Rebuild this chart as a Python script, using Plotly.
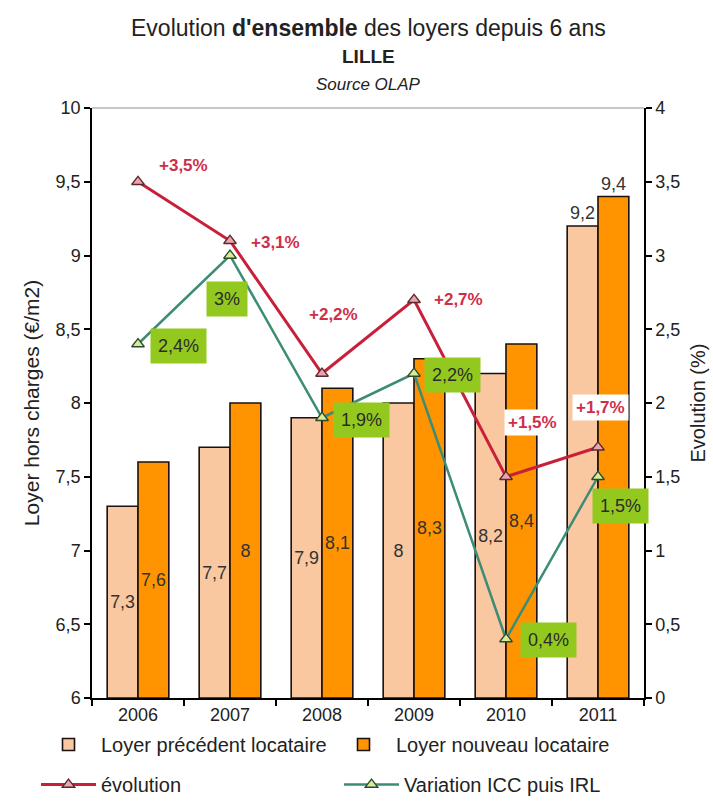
import plotly.graph_objects as go

# --- data -------------------------------------------------------------
years = ["2006", "2007", "2008", "2009", "2010", "2011"]
loyer_precedent = [7.3, 7.7, 7.9, 8.0, 8.2, 9.2]
loyer_nouveau = [7.6, 8.0, 8.1, 8.3, 8.4, 9.4]
evolution = [3.5, 3.1, 2.2, 2.7, 1.5, 1.7]
variation_icc_irl = [2.4, 3.0, 1.9, 2.2, 0.4, 1.5]

left_ticks = [6, 6.5, 7, 7.5, 8, 8.5, 9, 9.5, 10]
right_ticks = [0, 0.5, 1, 1.5, 2, 2.5, 3, 3.5, 4]

# bars rise from the bottom of the left axis
BAR_BASE = left_ticks[0]


def fr(v):
    """French decimal formatting: 7.3 -> '7,3', 8.0 -> '8'."""
    s = f"{v:.1f}"
    if s.endswith(".0"):
        s = s[:-2]
    return s.replace(".", ",")


FONT = "Liberation Sans, Arial, sans-serif"
LIGHT = "#F9C7A0"
ORANGE = "#FF9400"
RED = "#C8203A"
GREEN = "#3C8C76"
LABEL_RED = "#CF2E4A"
BOX_GREEN = "#93C91F"

fig = go.Figure()

# bars (left axis)
outside_last = ["inside"] * (len(years) - 1) + ["outside"]
for name, values, color, leg in [("Loyer précédent locataire", loyer_precedent, LIGHT, "legend"),
                                 ("Loyer nouveau locataire", loyer_nouveau, ORANGE, "legend2")]:
    fig.add_trace(go.Bar(
        x=years, y=[v - BAR_BASE for v in values], base=BAR_BASE, name=name,
        marker=dict(color=color, line=dict(color="#1a1010", width=1.6)),
        text=[fr(v) for v in values], textposition=outside_last,
        insidetextanchor="middle", textangle=0,
        textfont=dict(size=18, color="#333333", family=FONT),
        cliponaxis=False, legend=leg,
    ))

# lines (right axis)
fig.add_trace(go.Scatter(
    x=years, y=evolution, name="évolution", yaxis="y2",
    mode="lines+markers",
    line=dict(color=RED, width=3),
    marker=dict(symbol="triangle-up", size=11, color="#E9A4AE",
                line=dict(color="#5a2a30", width=1.3)),
    cliponaxis=False, legend="legend3",
))
fig.add_trace(go.Scatter(
    x=years, y=variation_icc_irl, name="Variation ICC puis IRL", yaxis="y2",
    mode="lines+markers",
    line=dict(color=GREEN, width=2.5),
    marker=dict(symbol="triangle-up", size=11, color="#D6EC9A",
                line=dict(color="#2f4a2a", width=1.3)),
    cliponaxis=False, legend="legend4",
))

annotations = []

# value labels for the "évolution" line: (dx, dy) offsets in px, white box where over bars
# (annotations on the category axis are placed by category index)
red_offsets = [(45, 16), (45, -2), (11, 59), (44, 0), (26, 54), (2, 40)]
red_boxed = [False, False, False, False, True, True]
for i, (v, (dx, dy), boxed) in enumerate(zip(evolution, red_offsets, red_boxed)):
    annotations.append(dict(
        x=i, y=v, xref="x", yref="y2", xshift=dx, yshift=dy,
        text=f"<b>+{fr(v)}%</b>", showarrow=False,
        font=dict(size=17, color=LABEL_RED, family=FONT),
        bgcolor="white" if boxed else "rgba(0,0,0,0)", borderpad=3,
    ))

# value labels for the ICC/IRL line, in green boxes
green_offsets = [(40, -2), (-3, -43), (39, -2), (38, -1), (42, -1), (22, -29)]
for i, (v, (dx, dy)) in enumerate(zip(variation_icc_irl, green_offsets)):
    annotations.append(dict(
        x=i, y=v, xref="x", yref="y2", xshift=dx, yshift=dy,
        text=f"{fr(v)}%", showarrow=False,
        font=dict(size=18, color="#2b2b2b", family=FONT),
        bgcolor=BOX_GREEN, borderpad=7,
    ))

# three-line heading
annotations += [
    dict(x=0.5, y=1.136, xref="paper", yref="paper", showarrow=False,
         text="Evolution <b>d'ensemble</b> des loyers depuis 6 ans",
         font=dict(size=23, color="#222222", family=FONT), yanchor="middle"),
    dict(x=0.5, y=1.087, xref="paper", yref="paper", showarrow=False,
         text="<b>LILLE</b>",
         font=dict(size=19, color="#222222", family=FONT), yanchor="middle"),
    dict(x=0.5, y=1.039, xref="paper", yref="paper", showarrow=False,
         text="<i>Source OLAP</i>",
         font=dict(size=17, color="#222222", family=FONT), yanchor="middle"),
]

axis_common = dict(
    showline=True, linecolor="black", linewidth=1.5,
    ticks="outside", ticklen=6, tickcolor="black", tickwidth=1.5,
    showgrid=False, zeroline=False,
    tickfont=dict(size=18, color="#222222", family=FONT),
)


def legend_box(x_px, y_px):
    """One single-entry legend, placed in container pixels."""
    return dict(
        orientation="h", xref="container", yref="container",
        x=x_px / 713, y=1 - y_px / 801, xanchor="left", yanchor="top",
        font=dict(size=20, family=FONT), itemwidth=55,
        bgcolor="rgba(0,0,0,0)",
    )


fig.update_layout(
    width=713, height=801,
    margin=dict(l=92, r=69, t=108, b=103, autoexpand=False),
    paper_bgcolor="white", plot_bgcolor="white",
    separators=", ",
    font=dict(family=FONT, color="#222222"),
    barmode="group", bargap=0.33, bargroupgap=0,
    showlegend=True,
    xaxis=dict(type="category", tickson="boundaries",
               range=[-0.5, len(years) - 0.5], **axis_common),
    yaxis=dict(range=[6, 10], tickvals=left_ticks,
               ticktext=[fr(t) for t in left_ticks],
               title=dict(text="Loyer hors charges (€/m2)",
                          font=dict(size=21, family=FONT), standoff=10),
               **axis_common),
    yaxis2=dict(range=[0, 4], tickvals=right_ticks,
                ticktext=[fr(t) for t in right_ticks],
                overlaying="y", side="right",
                title=dict(text="Evolution (%)",
                           font=dict(size=20, family=FONT), standoff=12),
                **axis_common),
    legend=legend_box(36, 725),
    legend2=legend_box(331, 725),
    legend3=legend_box(36, 765),
    legend4=legend_box(339, 765),
    annotations=annotations,
    shapes=[dict(type="line", xref="paper", yref="paper", x0=0, x1=1, y0=1, y1=1,
                 line=dict(color="#b5b5b5", width=1.5))],
)

fig.write_html("out.html")
